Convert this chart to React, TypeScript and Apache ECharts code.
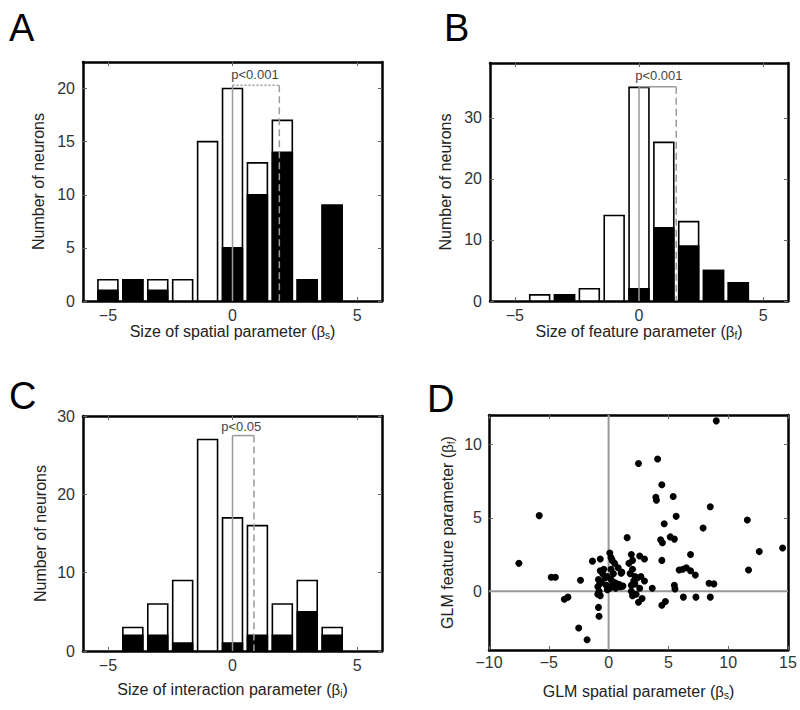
import React, { useEffect, useRef } from 'react';
import * as echarts from 'echarts';

const FONT = '"Liberation Sans", Arial, Helvetica, sans-serif';

// Panel A: spatial parameter histogram
const binsA = [-5, -4, -3, -2, -1, 0, 1, 2, 3, 4];
const totalA = [2, 2, 2, 2, 15, 20, 13, 17, 2, 9];
const blackA = [1, 2, 1, 0, 0, 5, 10, 14, 2, 9];

// Panel B: feature parameter histogram
const binsB = [-4, -3, -2, -1, 0, 1, 2, 3, 4];
const totalB = [1, 1, 2, 14, 35, 26, 13, 5, 3];
const blackB = [0, 1, 0, 0, 2, 12, 9, 5, 3];

// Panel C: interaction parameter histogram
const binsC = [-4, -3, -2, -1, 0, 1, 2, 3, 4];
const totalC = [3, 6, 9, 27, 17, 16, 6, 9, 3];
const blackC = [2, 2, 1, 0, 1, 2, 2, 5, 2];

// Means and significance annotations (A, B, C)
const meanValues = [1.88, 1.5, 0.86];
const bracketTops = [20.3, 35.1, 27.5];
const pTexts = ['p<0.001', 'p<0.001', 'p<0.05'];
const pTextPos = [[0.9, 21.3], [0.8, 37.0], [0.35, 28.6]];

// Axis ranges / ticks
const histX = [-6, 6];
const histXTicks = [-5, 0, 5];
const yMaxA = 22.5;
const yMaxB = 39;
const yMaxC = 30;
const yTicksA = [0, 5, 10, 15, 20];
const yTicksB = [0, 10, 20, 30];
const yTicksC = [0, 10, 20, 30];
const dX = [-10, 15];
const dY = [-4, 12];
const dXTicks = [-10, -5, 0, 5, 10, 15];
const dYTicks = [0, 5, 10];

// Panel D: GLM spatial (x) vs feature (y) parameters
const spatialD = [
  9.0, 2.5, 4.1, 4.45, 3.95, 4.0, 5.4, 8.5, 5.65, -5.8, 4.65, 11.6, 7.9, 1.55, 4.35, 4.5, 5.15, 5.5,
  12.6, 14.55, 6.85, 4.45, 11.7, -7.5, -1.35, -0.7, -4.8, -4.45, -2.35, -3.7, -3.4, -2.5, -1.8, -0.85,
  -0.8, 3.65, 4.75, 4.45, 6.25, 7.3, 8.5, 8.4, 8.8, 5.5, 5.55, 5.9, 6.2, 6.5, 6.85, 7.25, 2.5,
  -0.9, -0.8, -0.7, -0.6, -0.5, -0.4, -0.7, -0.3, -0.2, -0.1, -0.1, -0.85, -0.75, -0.9,
  0.1, 0.2, 0.3, 0.5, 0.2, 0.4, 0.8, 1.1, 0.2, 0.5, 0.9, 1.2, 0.6, 0.3, 0.1, 0.7, 1.0, 1.05,
  1.7, 1.9, 2.0, 2.6, 3.0, 2.0, 1.8, 2.2, 2.1, 1.9, 2.4, 2.7, 3.0, 2.2, 1.9, 2.3, 2.0, 2.6, 2.8,
];
const featureD = [
  11.6, 8.7, 9.0, 7.25, 6.4, 6.2, 6.45, 5.75, 5.1, 5.15, 4.6, 4.85, 4.3, 3.65, 3.5, 3.3, 3.7, 3.55,
  2.7, 2.95, 2.5, 2.1, 1.45, 1.9, 2.05, 2.2, 0.95, 0.95, 0.75, -0.55, -0.4, -2.5, -3.3, -1.1,
  -1.7, 0.2, -0.7, -0.95, -0.4, -0.4, -0.4, 0.55, 0.5, 0.4, 0.15, 1.45, 1.5, 1.6, 1.4, 1.1, -0.75,
  0.3, 0.0, -0.3, 0.6, 1.2, 1.5, 1.4, 0.9, 0.4, 0.1, 1.0, 0.8, 0.5, -0.2,
  2.6, 2.3, 2.1, 1.9, 1.5, 1.2, 1.6, 1.3, 0.8, 0.6, 0.45, 0.35, 0.2, 0.4, 0.2, 0.5, 0.3, 1.23,
  1.9, 2.5, 2.1, 2.4, 2.2, 1.5, 1.2, 1.0, 0.7, 0.4, 0.9, 1.0, 0.7, 0.5, 0.0, -0.2, -0.3, 0.2, -0.5,
];

const fmt = (v: number) => String(v).replace('-', '\u2212');

const nameRich = {
  t: { fontSize: 16, fontFamily: FONT, color: '#222' },
  g: { fontSize: 15, fontFamily: FONT, color: '#222' },
  s: { fontSize: 10, fontFamily: FONT, color: '#222', padding: [8, 0, 0, 0] },
};

function axis(
  gridIndex: number,
  position: string,
  range: number[],
  ticks: number[],
  showLabel: boolean,
  margin: number,
  name?: string,
  nameGap?: number,
) {
  return {
    type: 'value',
    gridIndex,
    position,
    min: range[0],
    max: range[1],
    axisLine: { show: true, onZero: false, lineStyle: { color: '#000', width: 2.5 } },
    axisTick: {
      show: true,
      inside: true,
      length: 4,
      customValues: ticks,
      lineStyle: { color: '#666', width: 1 },
    },
    axisLabel: {
      show: showLabel,
      customValues: ticks,
      formatter: (v: number) => fmt(v),
      fontSize: 16,
      fontFamily: FONT,
      color: '#333',
      margin,
    },
    splitLine: { show: false },
    name: name || '',
    nameLocation: 'middle',
    nameGap: nameGap || 0,
    nameTextStyle: { rich: nameRich, fontSize: 16, fontFamily: FONT, color: '#222' },
  };
}

function barSeries(axisIndex: number, bins: number[], values: number[], fill: string, z: number) {
  return {
    type: 'custom',
    xAxisIndex: axisIndex,
    yAxisIndex: axisIndex,
    silent: true,
    z,
    encode: { x: 0, y: 1 },
    data: bins.map((b, i) => [b, values[i]]),
    renderItem: (_p: any, api: any) => {
      const x = api.value(0);
      const y = api.value(1);
      if (!(y > 0)) return { type: 'group', children: [] };
      const p1 = api.coord([x - 0.4, y]);
      const p2 = api.coord([x + 0.4, 0]);
      return {
        type: 'rect',
        shape: { x: p1[0], y: p1[1], width: p2[0] - p1[0], height: p2[1] - p1[1] },
        style: { fill, stroke: '#000', lineWidth: 1.6 },
      };
    },
  };
}

function annotSeries(axisIndex: number, k: number) {
  return {
    type: 'custom',
    xAxisIndex: axisIndex,
    yAxisIndex: axisIndex,
    silent: true,
    z: 5,
    encode: { x: 0, y: 1 },
    data: [[meanValues[k], bracketTops[k], pTextPos[k][0], pTextPos[k][1]]],
    renderItem: (_p: any, api: any) => {
      const m = api.value(0);
      const top = api.value(1);
      const z0 = api.coord([0, 0]);
      const zt = api.coord([0, top]);
      const mt = api.coord([m, top]);
      const m0 = api.coord([m, 0]);
      const tp = api.coord([api.value(2), api.value(3)]);
      const gray = '#9a9a9a';
      return {
        type: 'group',
        children: [
          { type: 'line', shape: { x1: z0[0], y1: z0[1], x2: zt[0], y2: zt[1] }, style: { stroke: gray, lineWidth: 1.5 } },
          {
            type: 'line',
            shape: { x1: zt[0], y1: zt[1], x2: mt[0], y2: mt[1] },
            style: { stroke: gray, lineWidth: 1.5, lineDash: k === 0 ? [2, 2] : null },
          },
          {
            type: 'line',
            shape: { x1: mt[0], y1: mt[1], x2: m0[0], y2: m0[1] },
            style: { stroke: gray, lineWidth: 1.5, lineDash: [7, 4] },
          },
          {
            type: 'text',
            x: tp[0],
            y: tp[1],
            style: {
              text: pTexts[k],
              fill: '#444',
              fontSize: 13,
              fontFamily: FONT,
              align: 'center',
              verticalAlign: 'middle',
            },
          },
        ],
      };
    },
  };
}

const grids = [
  { left: 83, top: 62, width: 299, height: 239 },
  { left: 490, top: 63, width: 298, height: 238 },
  { left: 83, top: 416, width: 299, height: 235 },
  { left: 489, top: 415, width: 299, height: 235 },
];

const yName = '{t|Number of neurons}';

const option: any = {
  animation: false,
  backgroundColor: '#fff',
  grid: grids.map((g) => ({ ...g, show: false })),
  xAxis: [
    axis(0, 'bottom', histX, histXTicks, true, 6, '{t|Size of spatial parameter (}{g|β}{s|s}{t|)}', 21),
    axis(0, 'top', histX, histXTicks, false, 6),
    axis(1, 'bottom', histX, histXTicks, true, 6, '{t|Size of feature parameter (}{g|β}{s|f}{t|)}', 21),
    axis(1, 'top', histX, histXTicks, false, 6),
    axis(2, 'bottom', histX, histXTicks, true, 6, '{t|Size of interaction parameter (}{g|β}{s|i}{t|)}', 29),
    axis(2, 'top', histX, histXTicks, false, 6),
    axis(3, 'bottom', dX, dXTicks, true, 4, '{t|GLM spatial parameter (}{g|β}{s|s}{t|)}', 32),
    axis(3, 'top', dX, dXTicks, false, 4),
  ],
  yAxis: [
    axis(0, 'left', [0, yMaxA], yTicksA, true, 8, yName, 37),
    axis(0, 'right', [0, yMaxA], yTicksA, false, 8),
    axis(1, 'left', [0, yMaxB], yTicksB, true, 8, yName, 37),
    axis(1, 'right', [0, yMaxB], yTicksB, false, 8),
    axis(2, 'left', [0, yMaxC], yTicksC, true, 8, yName, 35),
    axis(2, 'right', [0, yMaxC], yTicksC, false, 8),
    axis(3, 'left', dY, dYTicks, true, 7, '{t|GLM feature parameter (}{g|β}{s|f}{t|)}', 33),
    axis(3, 'right', dY, dYTicks, false, 7),
  ],
  series: [
    barSeries(0, binsA, totalA, '#fff', 2),
    barSeries(0, binsA, blackA, '#000', 3),
    annotSeries(0, 0),
    barSeries(2, binsB, totalB, '#fff', 2),
    barSeries(2, binsB, blackB, '#000', 3),
    annotSeries(2, 1),
    barSeries(4, binsC, totalC, '#fff', 2),
    barSeries(4, binsC, blackC, '#000', 3),
    annotSeries(4, 2),
    {
      type: 'line',
      xAxisIndex: 6,
      yAxisIndex: 6,
      silent: true,
      symbol: 'none',
      z: 1,
      data: [[0, dY[0]], [0, dY[1]]],
      lineStyle: { color: '#999', width: 2 },
    },
    {
      type: 'line',
      xAxisIndex: 6,
      yAxisIndex: 6,
      silent: true,
      symbol: 'none',
      z: 1,
      data: [[dX[0], 0], [dX[1], 0]],
      lineStyle: { color: '#999', width: 2 },
    },
    {
      type: 'scatter',
      xAxisIndex: 6,
      yAxisIndex: 6,
      silent: true,
      z: 3,
      symbolSize: 7,
      itemStyle: { color: '#000', opacity: 1 },
      data: spatialD.map((x, i) => [x, featureD[i]]),
    },
  ],
  graphic: [
    { type: 'text', x: 9, y: 28, style: { text: 'A', fontSize: 38, fontFamily: FONT, fill: '#000', verticalAlign: 'middle' } },
    { type: 'text', x: 444, y: 28, style: { text: 'B', fontSize: 38, fontFamily: FONT, fill: '#000', verticalAlign: 'middle' } },
    { type: 'text', x: 9, y: 396, style: { text: 'C', fontSize: 38, fontFamily: FONT, fill: '#000', verticalAlign: 'middle' } },
    { type: 'text', x: 427, y: 399, style: { text: 'D', fontSize: 38, fontFamily: FONT, fill: '#000', verticalAlign: 'middle' } },
  ],
};

export default function App() {
  const ref = useRef<HTMLDivElement>(null);
  useEffect(() => {
    document.body.style.margin = '0';
    const chart = echarts.init(ref.current as HTMLDivElement, null, { renderer: 'svg' });
    chart.setOption(option);
    return () => chart.dispose();
  }, []);
  return <div ref={ref} style={{ width: 800, height: 710, background: '#fff' }} />;
}
